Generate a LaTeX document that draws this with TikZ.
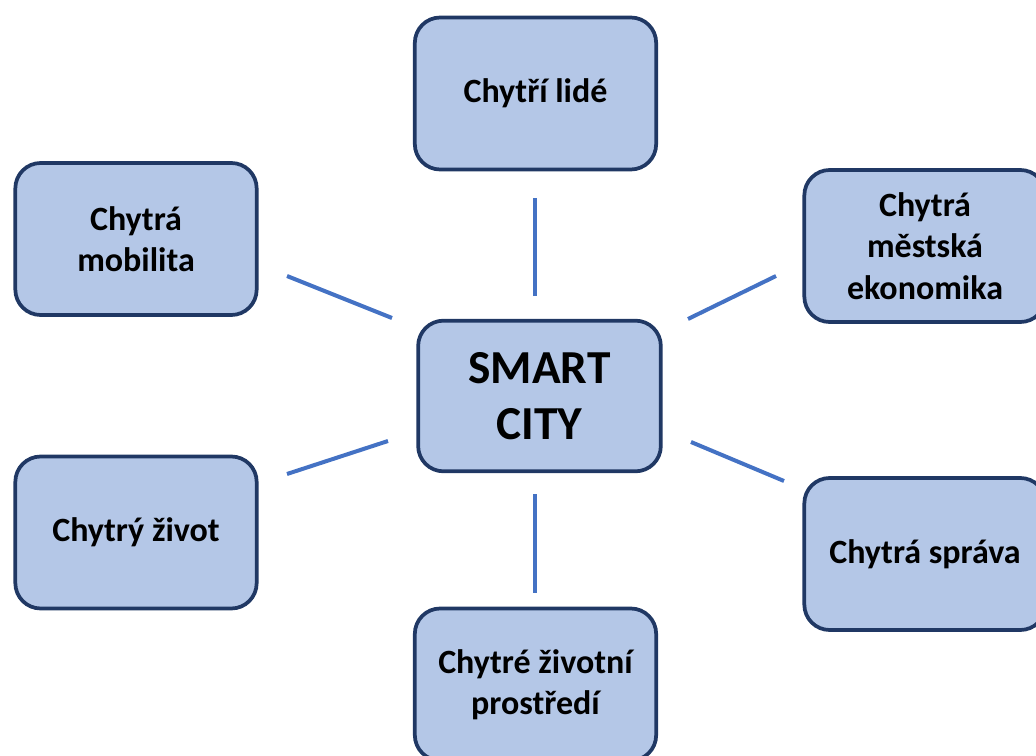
\documentclass[tikz,border=0pt]{standalone}
\usepackage{fontspec}
\setmainfont{Carlito}
\definecolor{boxfill}{HTML}{B4C7E7}
\definecolor{boxline}{HTML}{203864}
\definecolor{conn}{HTML}{4472C4}
\tikzset{
  box/.style={draw=boxline, fill=boxfill, line width=2.8pt, rounded corners=19pt,
    minimum width=181pt, minimum height=114pt, inner sep=0pt, align=center,
    font=\bfseries\fontsize{25.5}{31}\selectfont, text=black},
  bigbox/.style={box, minimum width=182pt, minimum height=113pt,
    font=\bfseries\fontsize{35.5}{41.5}\selectfont},
  conline/.style={draw=conn, line width=3pt}
}
\begin{document}
\begin{tikzpicture}[x=0.75pt,y=-0.75pt]
\path[use as bounding box] (0,0) rectangle (1036,756);
\clip (0,0) rectangle (1036,756);
\node[bigbox] (center) at (539.5,396) {SMART\\CITY};
\node[box] (top) at (535.5,93.5) {Chytří lidé};
\node[box] (lt) at (136,239) {Chytrá\\mobilita};
\node[box] (rt) at (925,246) {Chytrá\\městská\\ekonomika};
\node[box] (lb) at (136,532.5) {Chytrý život};
\node[box] (rb) at (925,554) {Chytrá správa};
\node[box] (bot) at (535.5,684.5) {Chytré životní\\prostředí};
\coordinate (t1) at (535,296); \coordinate (t2) at (535,198);
\coordinate (b1) at (535,494); \coordinate (b2) at (535,593);
\coordinate (lt1) at (392,318); \coordinate (lt2) at (287,276);
\coordinate (rt1) at (688,319); \coordinate (rt2) at (776,276);
\coordinate (lb1) at (388,441); \coordinate (lb2) at (287,474);
\coordinate (rb1) at (691,442); \coordinate (rb2) at (784,481);
\draw[conline] (t1) -- (t2);
\draw[conline] (b1) -- (b2);
\draw[conline] (lt1) -- (lt2);
\draw[conline] (rt1) -- (rt2);
\draw[conline] (lb1) -- (lb2);
\draw[conline] (rb1) -- (rb2);
\end{tikzpicture}
\end{document}
